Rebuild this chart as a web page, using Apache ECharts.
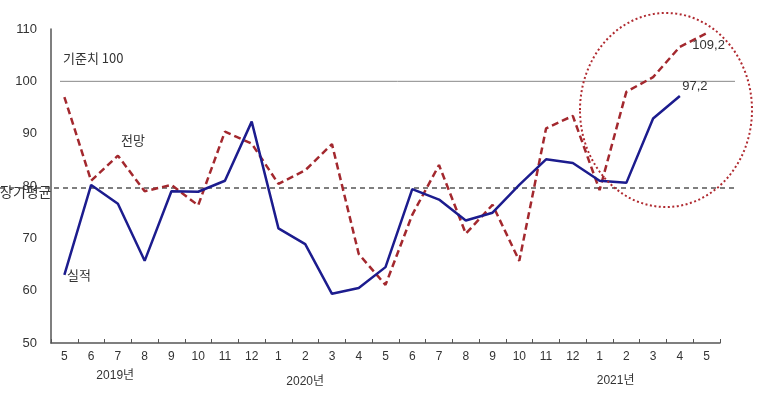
<!DOCTYPE html>
<html>
<head>
<meta charset="utf-8">
<script src="https://cdn.jsdelivr.net/npm/echarts@6/dist/echarts.min.js"></script>
<style>
  html, body { margin: 0; padding: 0; background: #fff; }
  #main { width: 760px; height: 395px; }
</style>
</head>
<body>
<div id="main"></div>
<script>
// 월 (2019.5 ~ 2021.5)
var months = ['5','6','7','8','9','10','11','12',
              '1','2','3','4','5','6','7','8','9','10','11','12',
              '1','2','3','4','5'];

// 실적
var actual = [63, 80.2, 76.6, 65.7, 79, 78.9, 81, 92.3,
              71.9, 68.9, 59.4, 60.5, 64.5, 79.4, 77.4, 73.4, 74.9, 80.2, 85.1, 84.4,
              81, 80.6, 92.9, 97.2, null];

// 전망
var outlook = [97, 81, 85.8, 79, 80.2, 76.3, 90.4, 88.1,
               80.4, 83, 88, 67, 61.1, 74.5, 84, 70.9, 76.4, 65.7, 91, 93.4,
               79.2, 98, 100.8, 106.6, 109.2];

var baseValue = 100;     // 기준치
var longAvg = 79.6;      // 장기평균

// 연도 표시 (카테고리 인덱스 기준)
var yearLabels = [
  { text: '2019년', idx: 1.9, dy: 33 },
  { text: '2020년', idx: 9, dy: 39 },
  { text: '2021년', idx: 20.6, dy: 38 }
];

var myChart = echarts.init(document.getElementById('main'));
var FONT = '"Liberation Sans", Arial, "Noto Sans CJK KR", sans-serif';
var KFONT = '"Noto Sans CJK KR", sans-serif';

function lastLabel(arr, pos, offset) {
  var last = -1;
  for (var i = 0; i < arr.length; i++) if (arr[i] != null) last = i;
  return arr.map(function (v, i) {
    if (i !== last) return v;
    return {
      value: v,
      label: {
        show: true, position: pos, offset: offset,
        formatter: function (p) { return String(p.value).replace('.', ','); },
        color: '#333', fontSize: 13, fontFamily: FONT
      }
    };
  });
}

myChart.setOption({
  animation: false,
  grid: { left: 51, right: 40, top: 29, bottom: 52 },
  xAxis: {
    type: 'category',
    data: months,
    boundaryGap: true,
    axisLine: { lineStyle: { color: '#555', width: 1.5 } },
    axisTick: { show: true, inside: true, length: 4, lineStyle: { color: '#555' } },
    axisLabel: { color: '#333', fontSize: 12, fontFamily: FONT, margin: 8 }
  },
  yAxis: {
    type: 'value',
    min: 50, max: 110, interval: 10,
    axisLine: { show: true, lineStyle: { color: '#555', width: 1.5 } },
    axisTick: { show: false },
    splitLine: { show: false },
    axisLabel: { color: '#333', fontSize: 13, fontFamily: FONT, margin: 14 }
  },
  series: [
    {
      name: '실적',
      type: 'line',
      data: lastLabel(actual, 'top', [15, 2]),
      symbol: 'circle',
      symbolSize: 0.1,
      showSymbol: true,
      itemStyle: { color: '#1c1c8e' },
      lineStyle: { color: '#1c1c8e', width: 2.5 },
      z: 3
    },
    {
      name: '전망',
      type: 'line',
      data: lastLabel(outlook, 'bottom', [2, 1]),
      symbol: 'circle',
      symbolSize: 0.1,
      showSymbol: true,
      itemStyle: { color: '#a3282e' },
      lineStyle: { color: '#a3282e', width: 2.5, type: [7, 4] },
      z: 2
    }
  ]
});

var yBase = myChart.convertToPixel({ yAxisIndex: 0 }, baseValue);
var yAvg = myChart.convertToPixel({ yAxisIndex: 0 }, longAvg);
var graphics = [
  { type: 'line', shape: { x1: 60, y1: yBase, x2: 735, y2: yBase },
    style: { stroke: '#888', lineWidth: 1 }, z: 1 },
  { type: 'line', shape: { x1: 0, y1: yAvg, x2: 735, y2: yAvg },
    style: { stroke: '#555', lineWidth: 1.5, lineDash: [5, 4] }, z: 1 },
  { type: 'text', left: 63, top: 52,
    style: { text: '기준치 100', fill: '#333', font: '13px ' + KFONT } },
  { type: 'text', left: 0, top: 185,
    style: { text: '장기평균', fill: '#333', font: '14px ' + KFONT } },
  { type: 'text', left: 121, top: 134,
    style: { text: '전망', fill: '#333', font: '13px ' + KFONT } },
  { type: 'text', left: 67, top: 269,
    style: { text: '실적', fill: '#333', font: '13px ' + KFONT } },
  { type: 'ellipse', shape: { cx: 666, cy: 110, rx: 86, ry: 97 },
    style: { fill: 'none', stroke: '#b02a30', lineWidth: 2, lineDash: [2, 2.5] }, z: 5 }
];
var yAxisBottom = myChart.convertToPixel({ yAxisIndex: 0 }, 50);
yearLabels.forEach(function (y) {
  var x = myChart.convertToPixel({ xAxisIndex: 0 }, Math.floor(y.idx));
  var step = myChart.convertToPixel({ xAxisIndex: 0 }, 1) - myChart.convertToPixel({ xAxisIndex: 0 }, 0);
  x += (y.idx - Math.floor(y.idx)) * step;
  graphics.push({
    type: 'text', x: x, y: yAxisBottom + y.dy,
    style: { text: y.text, fill: '#333', font: '12px ' + FONT, align: 'center', verticalAlign: 'middle' }
  });
});
myChart.setOption({ graphic: graphics });
</script>
</body>
</html>
